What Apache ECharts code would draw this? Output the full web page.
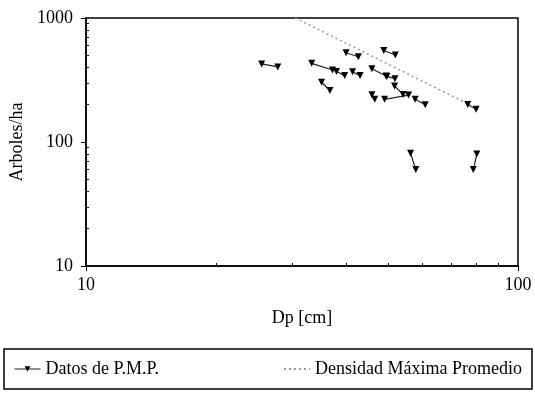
<!DOCTYPE html>
<html>
<head>
<meta charset="utf-8">
<script src="https://cdn.jsdelivr.net/npm/echarts@6/dist/echarts.min.js"></script>
<style>
  html, body { margin: 0; padding: 0; background: #fff; }
  #chart { width: 535px; height: 403px; }
</style>
</head>
<body>
<div id="chart"></div>
<script>
// each P.M.P. plot measured twice: first and second census
const dpFirst = [25.5, 40.0, 48.9, 33.3, 38.0, 41.4, 35.1, 45.9, 49.7, 51.8, 49.1, 45.9, 57.8, 76.5, 56.4, 80.3];
const nFirst = [426, 525, 547, 431, 370, 369, 303, 390, 338, 283, 221, 241, 221, 201, 81, 80];
const dpSecond = [27.8, 42.7, 52.0, 37.2, 39.7, 43.1, 36.7, 49.5, 51.9, 54.2, 55.8, 46.6, 61.0, 80.0, 58.0, 78.8];
const nSecond = [403, 487, 503, 381, 343, 343, 260, 341, 324, 242, 239, 221, 200, 184, 60, 60];

// average maximum density line
const maxDensityDp = [30.5, 77.5];
const maxDensityN = [1000, 199];

const minorTicksX = [20, 30, 40, 50, 60, 70, 80, 90];
const minorTicksY = [20, 30, 40, 50, 60, 70, 80, 90, 200, 300, 400, 500, 600, 700, 800, 900];

const FONT = 'Liberation Serif';
const FONT_SIZE = 18;

function buildSeries() {
    const series = [];
    for (let i = 0; i < dpFirst.length; i++) {
        series.push({
            name: 'Datos de P.M.P.',
            type: 'line',
            data: [[dpFirst[i], nFirst[i]], [dpSecond[i], nSecond[i]]],
            symbol: 'triangle',
            symbolRotate: 180,
            symbolSize: 7,
            lineStyle: { color: '#222', width: 1.2 },
            itemStyle: { color: '#000' },
            z: 3
        });
    }
    series.push({
        name: 'Densidad Máxima Promedio',
        type: 'line',
        data: maxDensityDp.map(function (d, i) { return [d, maxDensityN[i]]; }),
        symbol: 'none',
        lineStyle: { color: '#999', width: 1.5, type: [2, 3] },
        itemStyle: { color: '#999' },
        z: 2
    });
    return series;
}

const chart = echarts.init(document.getElementById('chart'));
const options = {
    animation: false,
    backgroundColor: '#fff',
    textStyle: { fontFamily: FONT },
    grid: {
        left: 86, right: 17, top: 18, bottom: 137,
        show: true, borderColor: '#000', borderWidth: 1.5
    },
    legend: {
        data: [
            { name: 'Datos de P.M.P.', lineStyle: { width: 1 } },
            { name: 'Densidad Máxima Promedio', itemStyle: { opacity: 0 } }
        ],
        left: 4,
        top: 349,
        itemWidth: 26,
        itemHeight: 7,
        itemGap: 124,
        padding: [11, 10],
        borderColor: '#000',
        borderWidth: 1.5,
        textStyle: { fontFamily: FONT, fontSize: FONT_SIZE, color: '#000' }
    },
    xAxis: [{
        type: 'log', logBase: 10, min: 10, max: 100,
        name: 'Dp [cm]', nameLocation: 'middle', nameGap: 43,
        nameTextStyle: { fontFamily: FONT, fontSize: FONT_SIZE, color: '#000' },
        axisLine: { lineStyle: { color: '#000', width: 1.5 } },
        axisTick: { length: 5, lineStyle: { color: '#000' } },
        axisLabel: { fontFamily: FONT, fontSize: FONT_SIZE, color: '#000', margin: 10 },
        splitLine: { show: false }
    }, {
        type: 'log', logBase: 10, min: 10, max: 100, position: 'bottom',
        axisLine: { show: false },
        axisLabel: { show: false },
        axisTick: { inside: true, length: 3, customValues: minorTicksX, lineStyle: { color: '#000' } },
        splitLine: { show: false }
    }],
    yAxis: [{
        type: 'log', logBase: 10, min: 10, max: 1000,
        name: 'Arboles/ha', nameLocation: 'middle', nameGap: 60,
        nameTextStyle: { fontFamily: FONT, fontSize: FONT_SIZE, color: '#000' },
        axisLine: { lineStyle: { color: '#000', width: 1.5 } },
        axisTick: { length: 5, lineStyle: { color: '#000' } },
        axisLabel: {
            fontFamily: FONT, fontSize: FONT_SIZE, color: '#000', margin: 13,
            formatter: function (v) { return String(v); }
        },
        splitLine: { show: false }
    }, {
        type: 'log', logBase: 10, min: 10, max: 1000, position: 'left',
        axisLine: { show: false },
        axisLabel: { show: false },
        axisTick: { inside: true, length: 3, customValues: minorTicksY, lineStyle: { color: '#000' } },
        splitLine: { show: false }
    }],
    series: buildSeries()
};
chart.setOption(options);
</script>
</body>
</html>
